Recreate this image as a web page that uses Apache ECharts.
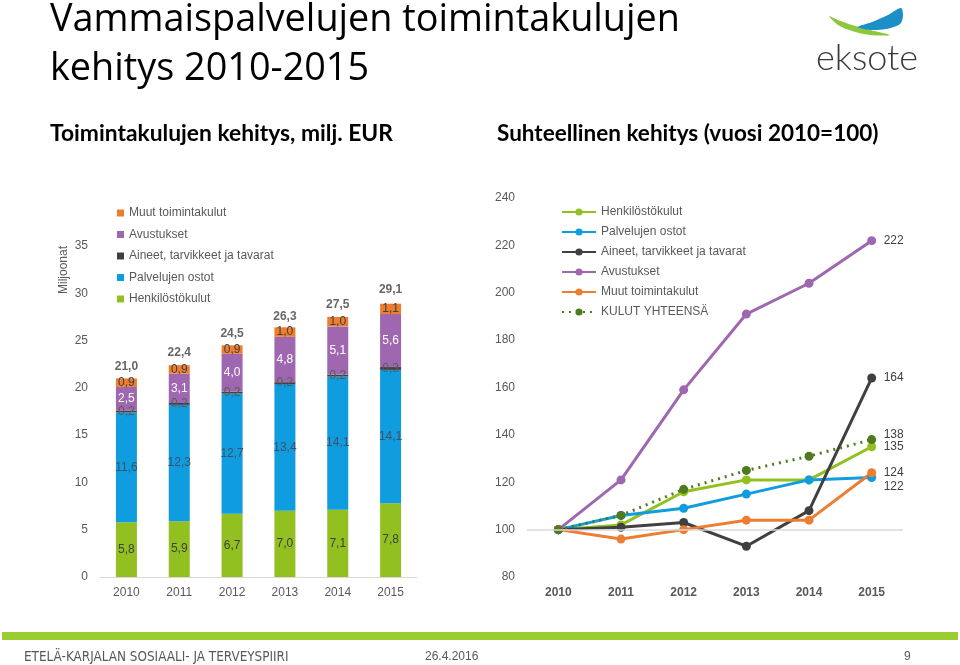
<!DOCTYPE html>
<html><head><meta charset="utf-8">
<script src="https://cdn.jsdelivr.net/npm/echarts@6/dist/echarts.min.js"></script>
<style>html,body{margin:0;padding:0;background:#fff}#c{width:960px;height:665px}</style>
</head><body><div id="c"></div>
<script>
// ---- Data ----
const years = ['2010','2011','2012','2013','2014','2015'];
// Left chart: costs, million EUR
const henkilosto = [5.8, 5.9, 6.7, 7.0, 7.1, 7.8];
const palvelujen = [11.6, 12.3, 12.7, 13.4, 14.1, 14.1];
const aineet = [0.2, 0.2, 0.2, 0.2, 0.2, 0.3];
const avustukset = [2.5, 3.1, 4.0, 4.8, 5.1, 5.6];
const muut = [0.9, 0.9, 0.9, 1.0, 1.0, 1.1];
const totals = [21.0, 22.4, 24.5, 26.3, 27.5, 29.1];
const leftTicks = [0, 5, 10, 15, 20, 25, 30, 35];
// Right chart: index 2010=100
const idxHenkilosto = [100, 102, 116, 121, 121, 135];
const idxPalvelujen = [100, 106, 109, 115, 121, 122];
const idxAineet = [100, 101, 103, 93, 108, 164];
const idxAvustukset = [100, 121, 159, 191, 204, 222];
const idxMuut = [100, 96, 100, 104, 104, 124];
const idxYhteensa = [100, 106, 117, 125, 131, 138];
const rightTicks = [80, 100, 120, 140, 160, 180, 200, 220, 240];

const C = {green:'#92c021', blue:'#0f9de0', dark:'#404040', purple:'#a067b1', orange:'#ed7d31', olive:'#4f7a1f'};
const fmt = v => (typeof v === 'object' ? v.value : v).toFixed(1).replace('.', ',');
const txt = '#595959';

const chart = echarts.init(document.getElementById('c'), null, {renderer:'canvas'});

function barSeries(name, data, color, labelColor) {
  return {
    name, type:'bar', stack:'cost', data, barWidth:21,
    xAxisIndex:0, yAxisIndex:0,
    itemStyle:{color},
    label:{show:true, position:'inside', formatter:p=>fmt(p.value), color:labelColor, fontSize:12, fontFamily:'Liberation Sans'}
  };
}
function lineSeries(name, data, color, dotted, labelOffset) {
  return {
    name, type:'line', data, xAxisIndex:1, yAxisIndex:1,
    symbol:'circle', symbolSize:9, showSymbol:true,
    itemStyle:{color},
    lineStyle:{color, width:3, type: dotted ? [2,5] : 'solid'},
    endLabel:{show:true, formatter:p=>String(p.value), color:'#404040', fontSize:12, fontFamily:'Liberation Sans', distance:12, offset:labelOffset||[0,0]},
    z: dotted ? 3 : 2
  };
}

chart.setOption({
  animation:false,
  backgroundColor:'#fff',
  textStyle:{fontFamily:'Liberation Sans'},
  grid:[
    {left:100, top:246, width:317, bottom:88},
    {left:527, top:198, width:376, bottom:88}
  ],
  xAxis:[
    {type:'category', gridIndex:0, data:years, axisTick:{show:false},
     axisLine:{lineStyle:{color:'#d9d9d9'}},
     axisLabel:{color:txt, fontSize:12, margin:10}},
    {type:'category', gridIndex:1, data:years, axisTick:{show:false},
     axisLine:{show:false},
     axisLabel:{color:txt, fontSize:12, fontWeight:'bold', margin:10}}
  ],
  yAxis:[
    {type:'value', gridIndex:0, min:leftTicks[0], max:leftTicks[leftTicks.length-1], interval:5,
     splitLine:{show:false}, axisLine:{show:false}, axisTick:{show:false},
     axisLabel:{color:txt, fontSize:12, margin:12}},
    {type:'value', gridIndex:1, min:rightTicks[0], max:rightTicks[rightTicks.length-1], interval:20,
     splitLine:{show:false}, axisLine:{show:false}, axisTick:{show:false},
     axisLabel:{color:txt, fontSize:12, margin:12}}
  ],
  legend:[
    {orient:'vertical', left:112, top:202, itemWidth:7, itemHeight:7, itemGap:9.5,
     icon:'rect', textStyle:{color:txt, fontSize:12}, selectedMode:false,
     data:['Muut toimintakulut','Avustukset','Aineet, tarvikkeet ja tavarat','Palvelujen ostot','Henkilöstökulut']},
    {orient:'vertical', left:556, top:201, itemWidth:34, itemHeight:9, itemGap:8,
     textStyle:{color:txt, fontSize:12}, selectedMode:false,
     data:['Henkilöstökulut ','Palvelujen ostot ','Aineet, tarvikkeet ja tavarat ','Avustukset ','Muut toimintakulut ','KULUT YHTEENSÄ']}
  ],
  series:[
    barSeries('Henkilöstökulut', henkilosto, C.green, '#404040'),
    barSeries('Palvelujen ostot', palvelujen, C.blue, '#3d5266'),
    barSeries('Aineet, tarvikkeet ja tavarat', aineet, C.dark, '#5a5a5a'),
    barSeries('Avustukset', avustukset, C.purple, '#ffffff'),
    barSeries('Muut toimintakulut', muut, C.orange, '#404040'),
    {name:'total', type:'scatter', data:totals, xAxisIndex:0, yAxisIndex:0, symbolSize:0,
     label:{show:true, position:'top', distance:6, formatter:p=>fmt(p.value), color:'#404040', fontWeight:'bold', fontSize:12}},
    lineSeries('Henkilöstökulut ', idxHenkilosto, C.green, false, [0,0]),
    lineSeries('Palvelujen ostot ', idxPalvelujen, C.blue, false, [0,9]),
    lineSeries('Aineet, tarvikkeet ja tavarat ', idxAineet, C.dark, false, [0,0]),
    lineSeries('Avustukset ', idxAvustukset, C.purple, false, [0,0]),
    lineSeries('Muut toimintakulut ', idxMuut, C.orange, false, [0,0]),
    Object.assign(lineSeries('KULUT YHTEENSÄ', idxYhteensa, C.olive, true, [0,-5]),
      {markLine:{silent:true, symbol:'none', label:{show:false}, lineStyle:{color:'#d9d9d9', type:'solid', width:1.5}, data:[{yAxis:100}]}})
  ],
  graphic:[
    {type:'text', left:50, top:1, style:{text:'Vammaispalvelujen toimintakulujen', font:'37.8px "Open Sans", Lato, sans-serif', fill:'#000'}},
    {type:'text', left:50, top:50, style:{text:'kehitys 2010-2015', font:'37.8px "Open Sans", Lato, sans-serif', fill:'#000'}},
    {type:'text', left:50, top:122, style:{text:'Toimintakulujen kehitys, milj. EUR', font:'bold 22.8px Lato, "Open Sans", sans-serif', fill:'#000'}},
    {type:'text', left:497, top:122, style:{text:'Suhteellinen kehitys (vuosi 2010=100)', font:'bold 22.5px Lato, "Open Sans", sans-serif', fill:'#000'}},
    {type:'text', x:64, y:270, rotation:Math.PI/2, style:{text:'Miljoonat', font:'12px "Liberation Sans"', fill:txt, align:'center', verticalAlign:'middle'}},
    {type:'rect', shape:{x:2, y:632, width:956, height:8}, style:{fill:'#9acd32'}},
    {type:'text', left:24, top:651, style:{text:'ETELÄ-KARJALAN SOSIAALI- JA TERVEYSPIIRI', font:'13.4px "Liberation Sans Narrow", "DejaVu Sans Condensed", sans-serif', fill:txt}},
    {type:'text', left:425, top:651, style:{text:'26.4.2016', font:'12px "Liberation Sans Narrow", sans-serif', fill:txt}},
    {type:'text', left:904, top:651, style:{text:'9', font:'12px "Liberation Sans Narrow", sans-serif', fill:txt}},
    {type:'polygon', shape:{points:[[829,16],[838,25],[852,31],[870,35],[890,35],[870,30],[852,25],[838,20]], smooth:0.3}, style:{fill:'#8dc63f'}},
    {type:'polygon', shape:{points:[[858,27],[872,22],[888,15],[901,8],[903,16],[900,24],[886,29],[870,30]], smooth:0.3}, style:{fill:'#1d8fc7'}},
    {type:'text', left:816, top:40, style:{text:'eksote', font:'300 36px Lato, "Open Sans", sans-serif', fill:'#3a3a3a'}}
  ]
});
</script></body></html>
